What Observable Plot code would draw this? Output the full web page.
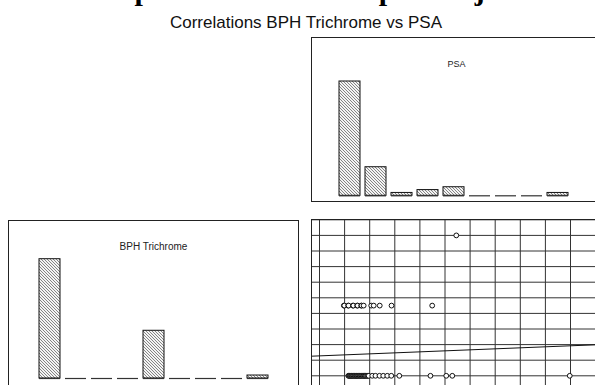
<!DOCTYPE html>
<html><head><meta charset="utf-8">
<script src="https://cdn.jsdelivr.net/npm/d3@7"></script>
<script src="https://cdn.jsdelivr.net/npm/@observablehq/plot@0.6"></script>
<style>
html,body{margin:0;padding:0;background:#fff;}
#page{position:relative;width:595px;height:385px;overflow:hidden;background:#fff;}
#page > svg{position:absolute;}
</style></head><body>
<div id="page"></div>
<script>
// ---- data ----
const titleText = "Scatterplot Matrix of Sample Subject Groups";
const subtitleText = "Correlations BPH Trichrome vs PSA";
const psaTitle = "PSA";
const bphTitle = "BPH Trichrome";

const binIds = [1, 2, 3, 4, 5, 6, 7, 8, 9];
const psaCounts = [40, 10, 1, 2, 3, 0, 0, 0, 1];
const bphCounts = [40, 0, 0, 0, 16, 0, 0, 0, 1];

// scatter: PSA (x) vs BPH Trichrome (y), 57 subjects
const psaValues = [
  1.15, 1.17, 1.2, 1.22, 1.25, 1.28, 1.3, 1.33, 1.36, 1.4,
  1.42, 1.45, 1.48, 1.5, 1.53, 1.56, 1.6, 1.62, 1.65, 1.68,
  1.72, 1.75, 1.78, 1.8, 1.83, 1.86, 1.9, 1.93, 1.96,
  2.1, 2.23, 2.39, 2.54, 2.7, 2.86, 3.18, 4.42, 5.05, 5.29, 9.97,
  0.97, 0.99, 1.14, 1.16, 1.33, 1.35, 1.5, 1.52, 1.66, 1.68, 1.76,
  2.06, 2.16, 2.4, 2.87, 4.49,
  5.45
];
const bphValues = [
  0, 0, 0, 0, 0, 0, 0, 0, 0, 0,
  0, 0, 0, 0, 0, 0, 0, 0, 0, 0,
  0, 0, 0, 0, 0, 0, 0, 0, 0,
  0, 0, 0, 0, 0, 0, 0, 0, 0, 0, 0,
  4.5, 4.5, 4.5, 4.5, 4.5, 4.5, 4.5, 4.5, 4.5, 4.5, 4.5,
  4.5, 4.5, 4.5, 4.5, 4.5,
  9
];
const fitIntercept = 1.277;
const fitSlope = 0.0646;
const gridXTicks = [0, 1, 2, 3, 4, 5, 6, 7, 8, 9, 10, 11, 12];
const gridYTicks = [-1, 0, 1, 2, 3, 4, 5, 6, 7, 8, 9, 10];

// ---- page ----
const page = document.getElementById("page");
const NS = "http://www.w3.org/2000/svg";

// hatch pattern
const defsSvg = document.createElementNS(NS, "svg");
defsSvg.setAttribute("width", "0"); defsSvg.setAttribute("height", "0");
defsSvg.innerHTML = `<defs><pattern id="hatch" width="3" height="3" patternUnits="userSpaceOnUse">
<rect width="3" height="3" fill="#f4f4f4"/>
<path d="M0,0L3,3M-1,2L1,4M2,-1L4,1" stroke="#858585" stroke-width="1"/></pattern></defs>`;
page.appendChild(defsSvg);

function place(svg, left, top) {
  svg.style.left = left + "px";
  svg.style.top = top + "px";
  svg.style.background = "transparent";
  svg.style.maxWidth = "none";
  page.appendChild(svg);
}

const font = "'Liberation Sans', Arial, sans-serif";

function histPanel(counts, title, o) {
  const data = binIds.map((b, i) => ({bin: b, count: counts[i]}));
  return Plot.plot({
    width: o.width, height: o.height,
    marginTop: 1, marginLeft: 1, marginRight: 1, marginBottom: 1,
    style: {fontFamily: font},
    x: {type: "band", domain: binIds, range: o.xRange, padding: o.padding, axis: null},
    y: {domain: [0, d3.max(counts)], range: o.yRange, axis: null},
    marks: [
      Plot.frame({stroke: "#222"}),
      Plot.text([title], {frameAnchor: "top", dy: o.titleDy, fontSize: o.titleSize, fill: "#222"}),
      Plot.barY(data.filter(d => d.count > 0), {x: "bin", y: "count", fill: "url(#hatch)", stroke: "#111", strokeWidth: 1}),
      Plot.tickY(data, {x: "bin", y: 0, stroke: "#333", strokeWidth: 1.2})
    ]
  });
}

place(histPanel(psaCounts, psaTitle, {
  width: 292, height: 166, xRange: [24.6, 263.3], padding: 0.18,
  yRange: [159.3, 45], titleDy: 23, titleSize: 9
}), 310, 36);

place(histPanel(bphCounts, bphTitle, {
  width: 292, height: 170, xRange: [23.9, 270.1], padding: 0.19,
  yRange: [159, 39.7], titleDy: 22, titleSize: 10
}), 7, 219);

// scatter
const points = psaValues.map((v, i) => ({psa: v, bph: bphValues[i]}));
const fitX = d3.extent([-1, ...gridXTicks]);
const fitLine = fitX.map(x => ({x, y: fitIntercept + fitSlope * x}));
place(Plot.plot({
  width: 300, height: 180,
  marginTop: 1, marginLeft: 1, marginRight: 0, marginBottom: 0,
  style: {fontFamily: font},
  x: {domain: [0, 10], range: [9, 260], axis: null},
  y: {domain: [0, 10], range: [157.3, 1.3], axis: null},
  marks: [
    Plot.gridX(gridXTicks, {stroke: "#333", strokeOpacity: 1, strokeWidth: 1}),
    Plot.gridY(gridYTicks, {stroke: "#333", strokeOpacity: 1, strokeWidth: 1}),
    Plot.line(fitLine, {x: "x", y: "y", stroke: "#111", strokeWidth: 1, clip: "frame"}),
    Plot.dot(points, {x: "psa", y: "bph", r: 2.4, fill: "white", stroke: "#111", strokeWidth: 1}),
    Plot.frame({stroke: "#222"})
  ]
}), 310, 218);

// titles
const t = document.createElementNS(NS, "svg");
t.setAttribute("width", "595"); t.setAttribute("height", "40");
t.style.left = "0px"; t.style.top = "0px";
t.innerHTML = `<text x="43" y="0" font-family="'Liberation Serif','Times New Roman',serif" font-weight="bold" font-size="30" fill="#000"></text>
<text x="306" y="28" text-anchor="middle" font-family="${font.replace(/"/g,'')}" font-size="17" fill="#111"></text>`;
t.children[0].textContent = titleText;
t.children[1].textContent = subtitleText;
page.appendChild(t);
</script>
</body></html>
